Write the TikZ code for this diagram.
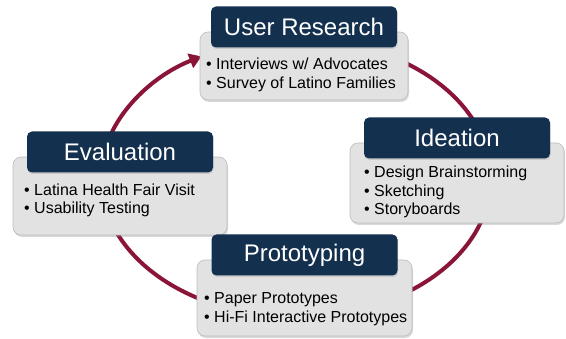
\documentclass[tikz,border=0pt]{standalone}
\usepackage{xcolor}
\usepackage{fontspec}
\setmainfont{Liberation Sans}
\usetikzlibrary{arrows.meta,positioning,shadows}
\definecolor{headnavy}{HTML}{14304F}
\definecolor{cyclered}{HTML}{8A1538}
\definecolor{boxgray}{HTML}{E2E2E2}
\definecolor{boxline}{HTML}{BDBDBD}

\begin{document}
\begin{tikzpicture}[
  x=1pt,y=1pt,
  stagebox/.style={draw=boxline,fill=boxgray,rounded corners=8pt,line width=.6pt,
    drop shadow={opacity=.3,shadow xshift=1pt,shadow yshift=-2pt}},
  stagehead/.style={fill=headnavy,text=white,rounded corners=5pt,
    minimum width=186pt,minimum height=41pt,font=\fontsize{24}{28}\selectfont,
    drop shadow={opacity=.25,shadow xshift=.5pt,shadow yshift=-1.5pt}},
  stageitems/.style={anchor=west,align=left,inner sep=0pt,
    font=\fontsize{16}{18.5}\selectfont}
]
  \useasboundingbox (0,0) rectangle (566,338);
  \coordinate (hub) at (296,160);
  \draw[cyclered,line width=4pt,-{Triangle[length=12pt,width=15pt]}]
    (hub) ++(70:195 and 139)
    arc[start angle=70,end angle=-241,x radius=195,y radius=139];

  \node[stagebox,minimum width=208pt,minimum height=68pt] (researchbox) at (304,272) {};
  \node[stagebox,minimum width=214pt,minimum height=80pt] (ideationbox) at (457,155) {};
  \node[stagebox,minimum width=214pt,minimum height=78pt] (evaluationbox) at (120,142) {};
  \node[stagebox,minimum width=215pt,minimum height=76pt] (prototypingbox) at (304.5,40) {};

  \node[stagehead,above=-16pt of researchbox.north] (research) {User Research};
  \node[stagehead,above=-16pt of ideationbox.north] (ideation) {Ideation};
  \node[stagehead,above=-16pt of evaluationbox.north] (evaluation) {Evaluation};
  \node[stagehead,above=-16pt of prototypingbox.north] (prototyping) {Prototyping};

  \node[stageitems] (researchitems) at (206,263)
    {• Interviews w/ Advocates\\• Survey of Latino Families};
  \node[stageitems] (ideationitems) at (364,146)
    {• Design Brainstorming\\• Sketching\\• Storyboards};
  \node[stageitems] (evaluationitems) at (24,137.5)
    {• Latina Health Fair Visit\\• Usability Testing};
  \node[stageitems] (prototypingitems) at (204,29)
    {• Paper Prototypes\\• Hi-Fi Interactive Prototypes};
\end{tikzpicture}
\end{document}
